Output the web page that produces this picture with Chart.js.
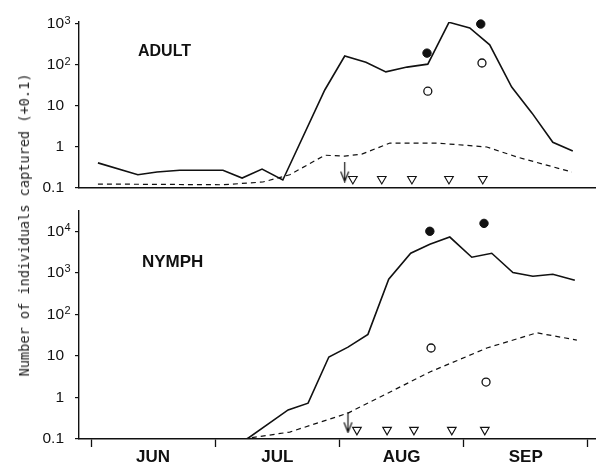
<!DOCTYPE html>
<html>
<head>
<meta charset="utf-8">
<script src="https://cdn.jsdelivr.net/npm/chart.js@4.4.1/dist/chart.umd.min.js"></script>
<style>
  html, body { margin: 0; padding: 0; background: #fff; }
  #wrap { position: relative; width: 596px; height: 463px; overflow: hidden; }
  #wrap canvas { position: absolute; left: 0; }
  #topChart { top: 0; }
  #bottomChart { top: 190px; }
  .panel { position: absolute; font: bold 16px "Liberation Sans", Arial, sans-serif; line-height: 1; color: #111; }
  #ytitle { position: absolute; left: 24px; top: 225px; transform: translate(-50%, -50%) rotate(-90deg);
            white-space: nowrap; font: 13.6px "DejaVu Sans Mono", monospace; color: #222; }
</style>
</head>
<body>
<div id="wrap">
  <canvas id="topChart" width="596" height="210"></canvas>
  <canvas id="bottomChart" width="596" height="300"></canvas>
  <div class="panel" style="left:138px; top:43px;">ADULT</div>
  <div class="panel" style="left:142px; top:253px; font-size:17px;">NYMPH</div>
  <div id="ytitle">Number of individuals captured (+0.1)</div>
</div>
<script>
// x values are days counted from 1 June
const monthEdges = [0, 30.5, 61, 91.5, 122];
const monthNames = ['JUN', 'JUL', 'AUG', 'SEP'];
const topTicks = [0.1, 1, 10, 100, 1000];
const bottomTicks = [0.1, 1, 10, 100, 1000, 10000];
const tickNames = ['0.1', '1', '10', '10', '10', '10'];
const tickExponents = ['', '', '', '2', '3', '4'];

// ADULT
const adultSolidDays = [1.7, 11.5, 16.2, 21.8, 32.4, 37.1, 42, 47.1, 57.4, 62.3, 67.5, 72.4, 77.6, 82.7, 87.9, 93, 97.9, 103.3, 108.3, 113.4, 118.3];
const adultSolid = [0.41, 0.21, 0.245, 0.27, 0.27, 0.175, 0.29, 0.157, 24.6, 166, 117, 68, 89, 105, 1100, 800, 310, 29, 6.7, 1.3, 0.8];
const adultDashDays = [1.7, 32.4, 42.2, 48.8, 57.4, 62.3, 66.5, 73.4, 84.9, 97.2, 104.6, 118.1];
const adultDashed = [0.125, 0.12, 0.14, 0.21, 0.63, 0.6, 0.67, 1.25, 1.25, 1.0, 0.57, 0.245];
const adultFullDays = [82.5, 95.7];
const adultFull = [195, 1000];
const adultOpenDays = [82.7, 96];
const adultOpen = [23, 112];
const adultTriDays = [64.3, 71.4, 78.8, 87.9, 96.2];
const adultArrowDay = [62.3];

// NYMPH
const nymphSolidDays = [2, 38.3, 48.4, 53.3, 58.4, 63.1, 68, 73.1, 78.5, 83.2, 88.1, 93.5, 98.4, 103.6, 108.5, 113.4, 118.8];
const nymphSolid = [0.1, 0.1, 0.5, 0.73, 9.4, 16.3, 33, 700, 2960, 4860, 7270, 2370, 2960, 1020, 830, 925, 660];
const nymphDashDays = [37.3, 48.8, 63.1, 83.2, 97.2, 109.5, 119.3];
const nymphDashed = [0.1, 0.147, 0.42, 4.1, 15.5, 36, 24];
const nymphFullDays = [83.2, 96.5];
const nymphFull = [10000, 15500];
const nymphOpenDays = [83.5, 97];
const nymphOpen = [15.5, 2.35];
const nymphTriDays = [65.3, 72.7, 79.3, 88.6, 96.7];
const nymphArrowDay = [63.1];

const ink = '#111';
const font = '"Liberation Sans", Arial, sans-serif';
const yTickLen = 4, yTickPad = 11;

function pts(xs, ys) {
    return xs.map((x, i) => ({x: x, y: ys[i]}));
}

function arrowImage() {
    const c = document.createElement('canvas');
    c.width = 11; c.height = 21;
    const g = c.getContext('2d');
    g.strokeStyle = ink; g.lineWidth = 1.2;
    g.beginPath();
    g.moveTo(5.5, 0); g.lineTo(5.5, 20);
    g.moveTo(1.5, 10); g.lineTo(5.5, 20); g.lineTo(9.5, 10);
    g.stroke();
    return c;
}
const arrow = arrowImage();

// small raised exponents after the "10" tick labels
const exponentPlugin = {
    id: 'exponents',
    afterDraw(chart) {
        const s = chart.scales.y;
        const ctx = chart.ctx;
        ctx.save();
        ctx.font = '11px ' + font;
        ctx.fillStyle = ink;
        ctx.textAlign = 'left';
        ctx.textBaseline = 'alphabetic';
        s.ticks.forEach(t => {
            const e = tickExponents[Math.round(Math.log10(t.value)) + 1];
            if (e) ctx.fillText(e, s.right - yTickLen - yTickPad + 0.5, s.getPixelForValue(t.value) - 0.5);
        });
        ctx.restore();
    }
};

function datasets(p) {
    return [
        {data: pts(p.solidX, p.solidY), showLine: true, borderColor: ink, borderWidth: 1.6, pointRadius: 0, tension: 0},
        {data: pts(p.dashX, p.dashY), showLine: true, borderColor: ink, borderWidth: 1.2, borderDash: [5, 4], pointRadius: 0, tension: 0},
        {data: pts(p.fullX, p.fullY), showLine: false, clip: false, pointRadius: 4.2, pointBackgroundColor: ink, pointBorderColor: ink},
        {data: pts(p.openX, p.openY), showLine: false, clip: false, pointRadius: 4, pointBorderWidth: 1.3, pointBackgroundColor: '#fff', pointBorderColor: ink},
        {data: p.triX.map(x => ({x: x, y: 0.166})), showLine: false, pointStyle: 'triangle', rotation: 180, pointRadius: 5,
         pointBorderWidth: 1.1, pointBackgroundColor: '#fff', pointBorderColor: ink},
        {data: p.arrowX.map(x => ({x: x, y: 0.245})), showLine: false, pointStyle: arrow}
    ];
}

function yScale(max, ticks) {
    return {
        type: 'logarithmic',
        min: 0.1,
        max: max,
        afterBuildTicks: s => { s.ticks = ticks.map(v => ({value: v})); },
        afterFit: s => { s.width = 79; },
        ticks: {
            callback: v => tickNames[Math.round(Math.log10(v)) + 1],
            font: {family: font, size: 15.5},
            color: ink,
            padding: yTickPad
        },
        grid: {drawOnChartArea: false, tickLength: yTickLen, color: ink, lineWidth: 1.2},
        border: {color: ink, width: 1.4}
    };
}

const xMin = -2.95, xMax = 124;
const mids = monthEdges.slice(1).map((e, i) => (e + monthEdges[i]) / 2);

function baseOptions(padding, scales) {
    return {
        responsive: false,
        animation: false,
        events: [],
        layout: {padding: padding, autoPadding: false},
        plugins: {legend: {display: false}, tooltip: {enabled: false}},
        scales: scales
    };
}

new Chart(document.getElementById('topChart'), {
    type: 'scatter',
    data: {datasets: datasets({
        solidX: adultSolidDays, solidY: adultSolid, dashX: adultDashDays, dashY: adultDashed,
        fullX: adultFullDays, fullY: adultFull, openX: adultOpenDays, openY: adultOpen,
        triX: adultTriDays, arrowX: adultArrowDay
    })},
    options: baseOptions({top: 22, bottom: 22, left: 0, right: 0}, {
        x: {
            type: 'linear', min: xMin, max: xMax,
            ticks: {display: false},
            grid: {drawOnChartArea: false, drawTicks: false},
            border: {color: ink, width: 1.5}
        },
        y: yScale(1120, topTicks)
    }),
    plugins: [exponentPlugin]
});

new Chart(document.getElementById('bottomChart'), {
    type: 'scatter',
    data: {datasets: datasets({
        solidX: nymphSolidDays, solidY: nymphSolid, dashX: nymphDashDays, dashY: nymphDashed,
        fullX: nymphFullDays, fullY: nymphFull, openX: nymphOpenDays, openY: nymphOpen,
        triX: nymphTriDays, arrowX: nymphArrowDay
    })},
    options: baseOptions({top: 19, bottom: 21, left: 0, right: 0}, {
        x: {
            type: 'linear', min: xMin, max: xMax,
            afterBuildTicks: s => { s.ticks = monthEdges.concat(mids).sort((a, b) => a - b).map(v => ({value: v})); },
            afterFit: s => { s.height = 30; },
            ticks: {
                autoSkip: false, maxRotation: 0, padding: 0,
                callback: v => { const i = mids.indexOf(v); return i < 0 ? '' : monthNames[i]; },
                font: {family: font, size: 17, weight: 'bold'},
                color: ink
            },
            grid: {
                drawOnChartArea: false, tickLength: 8, tickWidth: 1.3,
                tickColor: c => monthEdges.includes(c.tick.value) ? ink : 'rgba(0,0,0,0)'
            },
            border: {color: ink, width: 1.5}
        },
        y: yScale(32000, bottomTicks)
    }),
    plugins: [exponentPlugin]
});
</script>
</body>
</html>
